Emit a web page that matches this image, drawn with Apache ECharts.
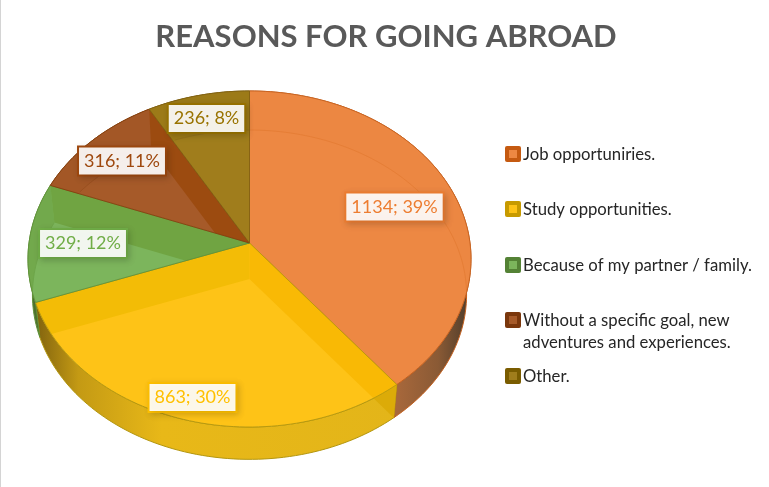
<!DOCTYPE html>
<html><head><meta charset="utf-8">
<style>html,body{margin:0;padding:0;background:#fff}#c{width:769px;height:487px}</style>
<script src="https://cdn.jsdelivr.net/npm/echarts@6/dist/echarts.min.js"></script>
</head><body><div id="c"></div>
<script>
var titleText = 'REASONS FOR GOING ABROAD';
var categories = ['Job opportuniries.', 'Study opportunities.', 'Because of my partner / family.', 'Without a specific goal, new\nadventures and experiences.', 'Other.'];
var values = [1134, 863, 329, 316, 236];
var percents = [39, 30, 12, 11, 8];

// styles
var faceColors = ['#ed8843', '#fec317', '#7cb55c', '#a65a29', '#a07d1c'];
var bandColors = ['#ec8742', '#fec317', '#72a94c', '#a35726', '#9c7a18'];
var startWall = ['#ed8843', '#f9b905', '#7cb55c', '#a65a29', '#a07d1c'];
var endWall = ['#ed8843', '#f3bc06', '#70a442', '#9c4b10', '#a07d1c'];
var edgeColors = ['#c4601e', '#b3960f', '#5f9038', '#843f0d', '#806012'];
var innerLine = ['#e67e36', null, '#6ea64a', '#9a5020', '#94721a'];
var labelColors = ['#ed7d31', '#ffc000', '#70ad47', '#9e480e', '#997300'];
var legendOuter = ['#c55a11', '#c79a00', '#548235', '#7a370c', '#7a5c00'];
var wallStops = [
  [[0, '#c9743d'], [0.55, '#b9703f'], [0.85, '#8a5a35'], [1, '#4a3a2a']],
  [[0, '#80620e'], [0.12, '#c49a14'], [0.35, '#e8b818'], [1, '#e3b519']],
  [[0, '#4a6a2a'], [1, '#5a8038']],
  [[0, '#6a3008'], [1, '#7a380c']],
  [[0, '#6a5008'], [1, '#7a5c0c']]
];
var labelCenters = [[394.5, 207], [192.5, 397.5], [83, 243.5], [122, 161], [206.5, 118.5]];
var legendRows = [154, 209, 265, 320, 376];

var cx = 249.5, cy = 243, A = 220.5, B = 166.5, K = 0.0952, SC = 0.98, DY = 36;
var total = values.reduce(function (a, b) { return a + b; }, 0);
var starts = [], acc = 0;
values.forEach(function (v) { starts.push(acc / total); acc += v; });

function P(turn, r, low) {
  var a = turn * 2 * Math.PI, u = r * Math.sin(a), v = -r * Math.cos(a), w = 1 - K * v;
  var s = low ? SC : 1, d = low ? DY : 0;
  return [cx + s * A * u / w, cy + d + s * B * v / w];
}
function arc(a, b, low) {
  var n = Math.max(2, Math.ceil((b - a) * 240)), out = [];
  for (var i = 0; i <= n; i++) out.push(P(a + (b - a) * i / n, 1, low));
  return out;
}
function clipPoly(subject, clip) {
  var area = 0, i;
  for (i = 0; i < clip.length; i++) {
    var p = clip[i], q = clip[(i + 1) % clip.length];
    area += p[0] * q[1] - q[0] * p[1];
  }
  var sgn = area > 0 ? 1 : -1, out = subject;
  for (i = 0; i < clip.length && out.length; i++) {
    var a = clip[i], b = clip[(i + 1) % clip.length];
    var side = function (c) { return sgn * ((b[0] - a[0]) * (c[1] - a[1]) - (b[1] - a[1]) * (c[0] - a[0])); };
    var res = [];
    for (var j = 0; j < out.length; j++) {
      var s = out[j], e = out[(j + 1) % out.length], ss = side(s), se = side(e);
      if (ss >= 0) res.push(s);
      if ((ss > 0 && se < 0) || (ss < 0 && se > 0)) {
        var t = ss / (ss - se);
        res.push([s[0] + (e[0] - s[0]) * t, s[1] + (e[1] - s[1]) * t]);
      }
    }
    out = res;
  }
  return out;
}
function poly(points, style) { return { type: 'polygon', shape: { points: points }, style: style, silent: true }; }
function radialQuad(t) { return [P(t, 0, false), P(t, 1, false), P(t, 1, true), P(t, 0, true)]; }

function renderWalls(params, api) {
  var i = params.dataIndex, a = starts[i], b = a + api.value(0) / total;
  var top = arc(a, b, false), low = arc(a, b, true).reverse();
  var kids = [poly(top.concat(low), {
    fill: new echarts.graphic.LinearGradient(0, 0, 1, 0, wallStops[i].map(function (s) { return { offset: s[0], color: s[1] }; })),
    stroke: edgeColors[i], lineWidth: 1
  })];
  if (i === 1) kids.push(poly(radialQuad(a), { fill: '#dcab08' }));
  return { type: 'group', children: kids };
}
function renderFaces(params, api) {
  var i = params.dataIndex, a = starts[i], b = a + api.value(0) / total;
  var slice = [P(a, 0, false)].concat(arc(a, b, false));
  var kids = [poly(slice, { fill: faceColors[i] })];
  var band = clipPoly(arc(a, b, false).concat(arc(a, b, true).reverse()), slice);
  if (band.length > 2) kids.push(poly(band, { fill: bandColors[i] }));
  [[a, startWall[i]], [b, endWall[i]]].forEach(function (w) {
    var q = clipPoly(radialQuad(w[0]), slice);
    if (q.length > 2) kids.push(poly(q, { fill: w[1] }));
  });
  if (innerLine[i]) {
    var inner = arc(a, b, true);
    inner = inner.filter(function (p) { return clipPoly([p, [p[0] + .01, p[1]], [p[0], p[1] + .01]], slice).length > 0; });
    if (inner.length > 1) kids.push({ type: 'polyline', shape: { points: inner }, style: { stroke: innerLine[i], lineWidth: 1, fill: null }, silent: true });
  }
  kids.push(poly(slice, { fill: null, stroke: edgeColors[i], lineWidth: 1, opacity: .85 }));
  return { type: 'group', children: kids };
}
function renderLabels(params, api) {
  var i = params.dataIndex, c = labelCenters[i];
  return {
    type: 'text', silent: true, x: c[0], y: c[1],
    style: {
      text: api.value(0) + '; ' + percents[i] + '%',
      fill: labelColors[i], font: '18px Lato, sans-serif',
      align: 'center', verticalAlign: 'middle',
      backgroundColor: 'rgba(255,255,255,0.91)', borderColor: labelColors[i], borderWidth: 2,
      padding: [5, 5, 4, 5],
      shadowColor: 'rgba(0,0,0,0.14)', shadowBlur: 6, shadowOffsetX: 2, shadowOffsetY: 2
    }
  };
}
function renderLegend(params) {
  var i = params.dataIndex, y = legendRows[i];
  return {
    type: 'group', silent: true, children: [
      { type: 'rect', shape: { x: 505, y: y - 8, width: 16, height: 16, r: 2 }, style: { fill: legendOuter[i] } },
      { type: 'rect', shape: { x: 509, y: y - 4, width: 8, height: 8 }, style: { fill: faceColors[i] } },
      { type: 'text', x: 523, y: y - 10, style: { text: categories[i], fill: '#262626', font: '16.7px Lato, sans-serif', lineHeight: 22, verticalAlign: 'top' } }
    ]
  };
}

var chart = echarts.init(document.getElementById('c'), null, { renderer: 'canvas' });
chart.setOption({
  animation: false,
  backgroundColor: '#ffffff',
  title: { text: titleText, left: 381, top: 16, textAlign: 'center',
    textStyle: { fontFamily: 'Lato, sans-serif', fontSize: 31, fontWeight: 'bold', color: '#595959' } },
  tooltip: { show: false },
  graphic: [{ type: 'rect', shape: { x: 0, y: 0, width: 1, height: 487 }, style: { fill: '#d4d4d4' }, silent: true }],
  series: [
    { type: 'custom', coordinateSystem: 'none', z: 2, data: values, renderItem: renderWalls },
    { type: 'custom', coordinateSystem: 'none', z: 3, data: values, renderItem: renderFaces },
    { type: 'custom', coordinateSystem: 'none', z: 4, data: values, renderItem: renderLabels },
    { type: 'custom', coordinateSystem: 'none', z: 4, data: values, renderItem: renderLegend }
  ]
});
</script></body></html>
